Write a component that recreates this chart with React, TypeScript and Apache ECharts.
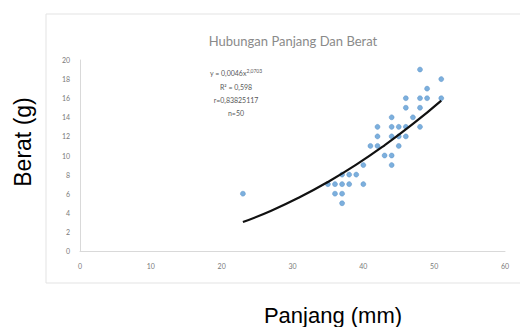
import React, { useEffect, useRef } from "react";
import * as echarts from "echarts";

const titleText = "Hubungan Panjang Dan Berat";
const xAxisName = "Panjang (mm)";
const yAxisName = "Berat (g)";

const panjang = [23, 48, 51, 49, 46, 48, 49, 51, 46, 48, 44, 47, 42, 44, 45, 46, 48, 42, 44, 45, 46, 41, 42, 45, 43, 44, 44, 40, 39, 38, 37, 35, 36, 37, 38, 40, 36, 37, 37];
const berat = [6, 19, 18, 17, 16, 16, 16, 16, 15, 15, 14, 14, 13, 13, 13, 13, 13, 12, 12, 12, 12, 11, 11, 11, 10, 10, 9, 9, 8, 8, 8, 7, 7, 7, 7, 7, 6, 6, 5];

const trendX = [23, 27, 31, 35, 39, 43, 47, 51];
const trendY = [3.03, 4.22, 5.62, 7.23, 9.04, 11.07, 13.3, 15.75];

const eqLines = ["R² = 0,598", "r=0,83825117", "n=50"];

export default function App() {
  const ref = useRef<HTMLDivElement>(null);
  useEffect(() => {
    if (!ref.current) return;
    const chart = echarts.init(ref.current, null, { renderer: "svg" });
    const scatterData = panjang.map((x, i) => [x, berat[i]]);
    const trendData = trendX.map((x, i) => [x, trendY[i]]);
    chart.setOption({
      animation: false,
      backgroundColor: "#ffffff",
      grid: { left: 80, right: 15, top: 60, bottom: 76 },
      title: {
        text: titleText,
        left: 288,
        top: 29,
        textAlign: "center",
        textStyle: { color: "#8a8a8a", fontSize: 13, fontWeight: "normal", fontFamily: "Lato" },
      },
      xAxis: {
        type: "value",
        min: 0,
        max: 60,
        interval: 10,
        splitLine: { show: false },
        axisLine: { show: true, lineStyle: { color: "#d9d9d9" } },
        axisTick: { show: false },
        axisLabel: { color: "#7a7a7a", fontSize: 7, margin: 11, fontFamily: "Lato" },
      },
      yAxis: {
        type: "value",
        min: 0,
        max: 20,
        interval: 2,
        splitLine: { show: false },
        axisLine: { show: true, lineStyle: { color: "#d9d9d9" } },
        axisTick: { show: false },
        axisLabel: { color: "#7a7a7a", fontSize: 7, margin: 10, fontFamily: "Lato" },
      },
      graphic: [
        {
          type: "rect",
          shape: { x: 46, y: 14, width: 480, height: 269 },
          style: { fill: "none", stroke: "#e3e3e3", lineWidth: 1 },
          z: -1,
        },
        {
          type: "text",
          x: 236,
          y: 73,
          style: {
            text: "{a|y = 0,0046x}{b|2,0703}",
            rich: {
              a: { fontSize: 7, fill: "#595959", fontFamily: "Lato" },
              b: { fontSize: 5, fill: "#595959", fontFamily: "Lato", verticalAlign: "top", padding: [0, 0, 5, 0] },
            },
            align: "center",
            verticalAlign: "middle",
          },
        },
        ...eqLines.map((t, i) => ({
          type: "text",
          x: 236,
          y: 87 + i * 13,
          style: {
            text: t,
            fontSize: 7,
            fill: "#595959",
            fontFamily: "Lato",
            align: "center",
            verticalAlign: "middle",
          },
        })),
        {
          type: "text",
          x: 333,
          y: 315,
          style: {
            text: xAxisName,
            fontSize: 22,
            fill: "#000000",
            fontFamily: "Liberation Sans",
            align: "center",
            verticalAlign: "middle",
          },
        },
        {
          type: "text",
          x: 23,
          y: 142,
          rotation: Math.PI / 2,
          style: {
            text: yAxisName,
            fontSize: 23,
            fill: "#000000",
            fontFamily: "Liberation Sans",
            align: "center",
            verticalAlign: "middle",
          },
        },
      ],
      series: [
        {
          type: "scatter",
          data: scatterData,
          symbol: "circle",
          symbolSize: 5,
          itemStyle: { color: "#5b9bd5", borderColor: "#4a86c0", borderWidth: 0.5 },
        },
        {
          type: "line",
          data: trendData,
          smooth: true,
          showSymbol: false,
          lineStyle: { color: "#111111", width: 2.2 },
        },
      ],
    });
    return () => chart.dispose();
  }, []);
  return (
    <div
      ref={ref}
      style={{ position: "fixed", left: 0, top: 0, width: 520, height: 327 }}
    />
  );
}
